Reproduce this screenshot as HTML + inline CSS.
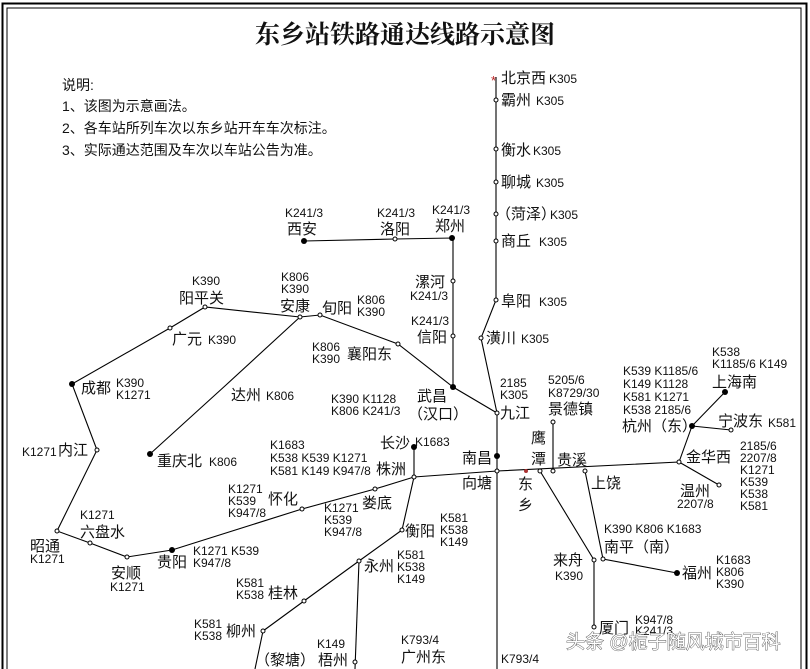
<!DOCTYPE html>
<html><head><meta charset="utf-8"><style>
html,body{margin:0;padding:0;background:#fff;width:810px;height:669px;overflow:hidden}
svg{display:block}
text{font-family:"Liberation Sans","Noto Sans CJK SC",sans-serif;fill:#111}
.n{font-size:15px}
.c{font-size:12px}
</style></head><body>
<svg width="810" height="669" viewBox="0 0 810 669" xmlns="http://www.w3.org/2000/svg">
<rect x="0" y="0" width="810" height="669" fill="#fff"/>
<path d="M2.5,669 V3.5 H806.5 V669" fill="none" stroke="#000" stroke-width="2"/>
<path d="M7,669 V8 H801 V669" fill="none" stroke="#000" stroke-width="1"/>
<text x="405" y="43" text-anchor="middle" style="font-family:'Noto Serif CJK SC','Liberation Serif',serif;font-size:25px;font-weight:bold">东乡站铁路通达线路示意图</text>
<g style="font-size:14px">
<text x="62" y="90">说明:</text>
<text x="62" y="111">1、该图为示意画法。</text>
<text x="62" y="133">2、各车站所列车次以东乡站开车车次标注。</text>
<text x="62" y="155">3、实际通达范围及车次以车站公告为准。</text>
</g>
<g fill="none" stroke="#000" stroke-width="1.1">
<polyline points="496,77 496,300 481,338 497,413 497,669"/>
<polyline points="414,477 497,471 679,462 692,426 725,392"/>
<polyline points="692,426 731,430"/>
<polyline points="679,462 719,485"/>
<polyline points="553,471 553,422"/>
<polyline points="585,471 603,559 677,573"/>
<polyline points="540,471 594,560 594,627"/>
<polyline points="497,413 453,387 453,238 395,239 304,241"/>
<polyline points="453,387 398,344 320,315 300,317 205,307 170,328 72,384 97,450 57,531 90,543 127,557 172,550 302,509 375,489 414,477"/>
<polyline points="300,317 226,385 150,454"/>
<polyline points="414,477 414,447"/>
<polyline points="414,477 402,530 359,561 304,601 263,631 255,669"/>
<polyline points="359,561 355,669"/>
</g>
<g fill="#000">
<circle cx="497" cy="456" r="3"/><circle cx="453" cy="387" r="3"/><circle cx="452" cy="238" r="3"/>
<circle cx="304" cy="241" r="3"/><circle cx="72" cy="384" r="3"/><circle cx="150" cy="454" r="3"/>
<circle cx="172" cy="550" r="3"/><circle cx="414" cy="447" r="3"/><circle cx="692" cy="426" r="3"/>
<circle cx="725" cy="392" r="3"/><circle cx="677" cy="573" r="3"/>
</g>
<g fill="#fff" stroke="#000" stroke-width="1">
<circle cx="496" cy="100" r="2"/><circle cx="496" cy="149" r="2"/><circle cx="496" cy="182" r="2"/>
<circle cx="496" cy="214" r="2"/><circle cx="496" cy="241" r="2"/><circle cx="496" cy="300" r="2"/>
<circle cx="481" cy="338" r="2"/><circle cx="497" cy="413" r="2"/><circle cx="497" cy="471" r="2"/>
<circle cx="540" cy="471" r="2"/><circle cx="553" cy="471" r="2"/><circle cx="553" cy="422" r="2"/>
<circle cx="585" cy="471" r="2"/><circle cx="679" cy="462" r="2"/><circle cx="731" cy="430" r="2"/>
<circle cx="719" cy="485" r="2"/><circle cx="603" cy="559" r="2"/><circle cx="594" cy="560" r="2"/>
<circle cx="594" cy="627" r="2"/><circle cx="453" cy="336" r="2"/><circle cx="453" cy="281" r="2"/>
<circle cx="395" cy="239" r="2"/><circle cx="398" cy="344" r="2"/><circle cx="320" cy="315" r="2"/>
<circle cx="300" cy="317" r="2"/><circle cx="205" cy="307" r="2"/><circle cx="170" cy="328" r="2"/>
<circle cx="97" cy="450" r="2"/><circle cx="57" cy="531" r="2"/><circle cx="90" cy="543" r="2"/>
<circle cx="127" cy="557" r="2"/><circle cx="302" cy="509" r="2"/><circle cx="375" cy="489" r="2"/>
<circle cx="414" cy="477" r="2"/><circle cx="402" cy="530" r="2"/><circle cx="359" cy="561" r="2"/>
<circle cx="304" cy="601" r="2"/><circle cx="263" cy="631" r="2"/><circle cx="355" cy="662" r="2"/>
</g>
<circle cx="526" cy="471" r="2" fill="#a33"/>
<text x="491" y="85" style="font-size:13px;fill:#b22">*</text>
<text class="n" x="501" y="83">北京西</text><text class="c" x="549" y="83">K305</text>
<text class="n" x="501" y="105">霸州</text><text class="c" x="536" y="105">K305</text>
<text class="n" x="501" y="155">衡水</text><text class="c" x="533" y="155">K305</text>
<text class="n" x="501" y="187">聊城</text><text class="c" x="536" y="187">K305</text>
<text class="n" x="496" y="219">（菏泽）</text><text class="c" x="550" y="219">K305</text>
<text class="n" x="501" y="246">商丘</text><text class="c" x="539" y="246">K305</text>
<text class="n" x="501" y="306">阜阳</text><text class="c" x="539" y="306">K305</text>
<text class="n" x="486" y="343">潢川</text><text class="c" x="521" y="343">K305</text>
<text class="c" x="500" y="387">2185</text><text class="c" x="500" y="399">K305</text>
<text class="n" x="500" y="418">九江</text>
<text class="n" x="462" y="463">南昌</text>
<text class="n" x="462" y="488">向塘</text>
<text class="n" x="518" y="489">东</text><text class="n" x="518" y="510">乡</text>
<text class="n" x="531" y="443">鹰</text><text class="n" x="531" y="464">潭</text>
<text class="n" x="557" y="465">贵溪</text>
<text class="c" x="548" y="384">5205/6</text><text class="c" x="548" y="397">K8729/30</text>
<text class="n" x="548" y="414">景德镇</text>
<text class="n" x="591" y="488">上饶</text>
<text class="c" x="623" y="375">K539 K1185/6</text><text class="c" x="623" y="388">K149 K1128</text>
<text class="c" x="623" y="401">K581 K1271</text><text class="c" x="623" y="414">K538 2185/6</text>
<text class="n" x="622" y="431">杭州（东）</text>
<text class="c" x="712" y="356">K538</text><text class="c" x="712" y="368">K1185/6 K149</text>
<text class="n" x="712" y="387">上海南</text>
<text class="n" x="718" y="426">宁波东</text><text class="c" x="768" y="427">K581</text>
<text class="n" x="686" y="462">金华西</text>
<text class="c" x="740" y="450">2185/6</text><text class="c" x="740" y="462">2207/8</text>
<text class="c" x="740" y="474">K1271</text><text class="c" x="740" y="486">K539</text>
<text class="c" x="740" y="498">K538</text><text class="c" x="740" y="510">K581</text>
<text class="n" x="680" y="496">温州</text><text class="c" x="677" y="508">2207/8</text>
<text class="c" x="604" y="533">K390 K806 K1683</text>
<text class="n" x="604" y="552">南平（南）</text>
<text class="n" x="553" y="565">来舟</text><text class="c" x="555" y="580">K390</text>
<text class="n" x="682" y="578">福州</text>
<text class="c" x="716" y="564">K1683</text><text class="c" x="716" y="576">K806</text><text class="c" x="716" y="588">K390</text>
<text class="n" x="599" y="633">厦门</text><text class="c" x="635" y="624">K947/8</text><text class="c" x="635" y="635">K241/3</text>
<text class="c" x="501" y="663">K793/4</text>
<text class="c" x="285" y="217">K241/3</text><text class="n" x="287" y="234">西安</text>
<text class="c" x="377" y="217">K241/3</text><text class="n" x="380" y="234">洛阳</text>
<text class="c" x="432" y="214">K241/3</text><text class="n" x="435" y="231">郑州</text>
<text class="n" x="415" y="287">漯河</text><text class="c" x="410" y="300">K241/3</text>
<text class="c" x="411" y="325">K241/3</text><text class="n" x="417" y="342">信阳</text>
<text class="n" x="417" y="401">武昌</text><text class="n" x="408" y="419">（汉口）</text>
<text class="c" x="331" y="403">K390 K1128</text><text class="c" x="331" y="415">K806 K241/3</text>
<text class="c" x="312" y="351">K806</text><text class="c" x="312" y="363">K390</text>
<text class="n" x="347" y="359">襄阳东</text>
<text class="n" x="322" y="313">旬阳</text><text class="c" x="357" y="304">K806</text><text class="c" x="357" y="316">K390</text>
<text class="c" x="281" y="281">K806</text><text class="c" x="281" y="293">K390</text>
<text class="n" x="280" y="311">安康</text>
<text class="c" x="192" y="285">K390</text><text class="n" x="179" y="303">阳平关</text>
<text class="n" x="172" y="344">广元</text><text class="c" x="208" y="344">K390</text>
<text class="n" x="81" y="393">成都</text><text class="c" x="116" y="387">K390</text><text class="c" x="116" y="399">K1271</text>
<text class="n" x="231" y="400">达州</text><text class="c" x="266" y="400">K806</text>
<text class="n" x="157" y="466">重庆北</text><text class="c" x="209" y="466">K806</text>
<text class="c" x="22" y="456">K1271</text><text class="n" x="58" y="455">内江</text>
<text class="c" x="80" y="519">K1271</text><text class="n" x="80" y="537">六盘水</text>
<text class="n" x="30" y="551">昭通</text><text class="c" x="30" y="563">K1271</text>
<text class="n" x="111" y="578">安顺</text><text class="c" x="110" y="591">K1271</text>
<text class="n" x="157" y="567">贵阳</text><text class="c" x="193" y="555">K1271 K539</text><text class="c" x="193" y="567">K947/8</text>
<text class="c" x="228" y="493">K1271</text><text class="c" x="228" y="505">K539</text><text class="c" x="228" y="517">K947/8</text>
<text class="n" x="268" y="504">怀化</text>
<text class="c" x="324" y="512">K1271</text><text class="c" x="324" y="524">K539</text><text class="c" x="324" y="536">K947/8</text>
<text class="n" x="362" y="508">娄底</text>
<text class="c" x="270" y="449">K1683</text><text class="c" x="270" y="462">K538 K539 K1271</text><text class="c" x="270" y="475">K581 K149 K947/8</text>
<text class="n" x="376" y="474">株洲</text>
<text class="n" x="380" y="448">长沙</text><text class="c" x="415" y="446">K1683</text>
<text class="n" x="405" y="536">衡阳</text><text class="c" x="440" y="522">K581</text><text class="c" x="440" y="534">K538</text><text class="c" x="440" y="546">K149</text>
<text class="n" x="364" y="571">永州</text><text class="c" x="397" y="559">K581</text><text class="c" x="397" y="571">K538</text><text class="c" x="397" y="583">K149</text>
<text class="c" x="236" y="587">K581</text><text class="c" x="236" y="599">K538</text><text class="n" x="268" y="598">桂林</text>
<text class="c" x="194" y="628">K581</text><text class="c" x="194" y="640">K538</text><text class="n" x="226" y="636">柳州</text>
<text class="n" x="255" y="665">（黎塘）</text>
<text class="c" x="317" y="648">K149</text><text class="n" x="318" y="665">梧州</text>
<text class="c" x="401" y="644">K793/4</text><text class="n" x="401" y="662">广州东</text>
<text x="566" y="648" style="font-size:19px;fill:#fff;stroke:#444;stroke-width:0.8;paint-order:stroke">头条 @栀子随风城市百科</text>
</svg>
</body></html>
